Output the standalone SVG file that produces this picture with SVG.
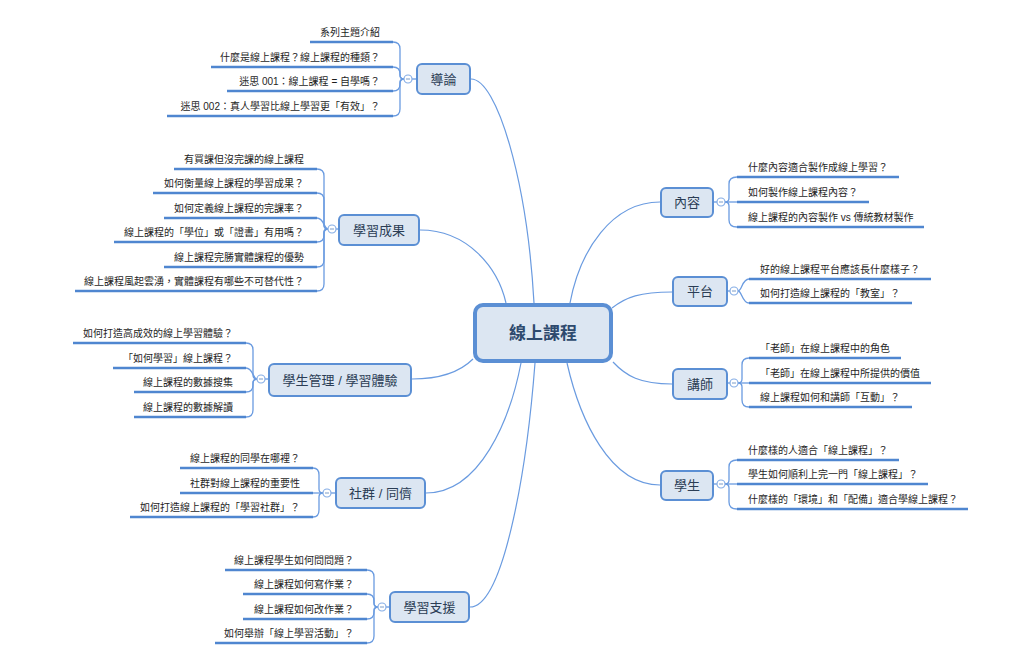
<svg xmlns="http://www.w3.org/2000/svg" width="1024" height="663" viewBox="0 0 1024 663">
<style>
text{font-family:"Liberation Sans","Noto Sans CJK TC",sans-serif}
.bg{fill:#ffffff}
.main{fill:#dce6f2;stroke:#5b8fd4;stroke-width:4}
.topic{fill:#dce6f2;stroke:#5b8fd4;stroke-width:2}
.mt{font-size:17px;font-weight:bold;fill:#2e4a6e;text-anchor:middle}
.tt{font-size:13px;fill:#2b3d55;text-anchor:middle}
.st{font-size:10px;fill:#1e1e1e}
.l{text-anchor:end}
.ul{stroke:#4f86d0;stroke-width:2.4;fill:none}
.c{stroke:#6a9be0;stroke-width:1.3;fill:none}
.mc{stroke:#6a9be0;stroke-width:1.2;fill:none}
.btn{fill:#ffffff;stroke:#86aee6;stroke-width:1.2}
.minus{stroke:#7a9cc8;stroke-width:1}
</style>
<rect class="bg" x="0" y="0" width="1024" height="663"/>

<g id="connectors">
  <!-- main connectors -->
  <path class="mc" d="M471,79 C497,79 527,180 534,303"/>
  <path class="mc" d="M420,230 C468,230 498,268 506,303"/>
  <path class="mc" d="M412,379 C440,379 460,372 473,359"/>
  <path class="mc" d="M426,493 C480,493 510,420 521,363"/>
  <path class="mc" d="M470,607 C502,607 526,480 535,363"/>
  <path class="mc" d="M660,202 C612,202 580,250 570,303"/>
  <path class="mc" d="M672,292 C640,292 626,297 612,308"/>
  <path class="mc" d="M672,384 C640,384 626,376 613,362"/>
  <path class="mc" d="M660,485 C610,485 580,420 567,363"/>
  <!-- 導論 -->
  <path class="c" d="M393,42 Q400,42 400,49 V75 Q400,79 404,79"/>
  <path class="c" d="M393,67 Q400,67 400,74 V75 Q400,79 404,79"/>
  <path class="c" d="M393,91 Q400,91 400,84 V83 Q400,79 404,79"/>
  <path class="c" d="M393,116 Q400,116 400,109 V83 Q400,79 404,79"/>
  <line class="c" x1="412" y1="79" x2="416" y2="79"/>
  <!-- 學習成果 -->
  <path class="c" d="M317,169 Q324,169 324,176 V225 Q324,229 328,229"/>
  <path class="c" d="M317,193 Q324,193 324,200 V225 Q324,229 328,229"/>
  <path class="c" d="M317,218 C324,218 324,229 328,229"/>
  <path class="c" d="M317,242 Q324,242 324,235 V233 Q324,229 328,229"/>
  <path class="c" d="M317,267 Q324,267 324,260 V233 Q324,229 328,229"/>
  <path class="c" d="M317,291 Q324,291 324,284 V233 Q324,229 328,229"/>
  <line class="c" x1="336" y1="229" x2="339" y2="229"/>
  <!-- 學生管理 -->
  <path class="c" d="M246,343 Q253,343 253,350 V375 Q253,379 257,379"/>
  <path class="c" d="M246,368 C253,368 253,379 257,379"/>
  <path class="c" d="M246,392 Q253,392 253,385 V383 Q253,379 257,379"/>
  <path class="c" d="M246,417 Q253,417 253,410 V383 Q253,379 257,379"/>
  <line class="c" x1="265" y1="379" x2="269" y2="379"/>
  <!-- 社群 -->
  <path class="c" d="M313,468 Q319,468 319,475 V489 Q319,493 323,493"/>
  <path class="c" d="M313,493 L323,493"/>
  <path class="c" d="M313,517 Q319,517 319,510 V497 Q319,493 323,493"/>
  <line class="c" x1="331" y1="493" x2="336" y2="493"/>
  <!-- 學習支援 -->
  <path class="c" d="M367,570 Q374,570 374,577 V603 Q374,607 378,607"/>
  <path class="c" d="M367,594 Q374,594 374,601 V603 Q374,607 378,607"/>
  <path class="c" d="M367,619 Q374,619 374,612 V611 Q374,607 378,607"/>
  <path class="c" d="M367,643 Q374,643 374,636 V611 Q374,607 378,607"/>
  <line class="c" x1="386" y1="607" x2="390" y2="607"/>
  <!-- 內容 -->
  <path class="c" d="M737,177 Q729,177 729,184 V198 Q729,202 725,202"/>
  <path class="c" d="M737,202 L725,202"/>
  <path class="c" d="M737,227 Q729,227 729,220 V206 Q729,202 725,202"/>
  <line class="c" x1="713" y1="202" x2="717" y2="202"/>
  <!-- 平台 -->
  <path class="c" d="M749,279 C742,279 742,291 738,291"/>
  <path class="c" d="M749,303 C742,303 742,291 738,291"/>
  <line class="c" x1="727" y1="291" x2="730" y2="291"/>
  <!-- 講師 -->
  <path class="c" d="M749,358 Q742,358 742,365 V379 Q742,383 738,383"/>
  <path class="c" d="M749,383 L738,383"/>
  <path class="c" d="M749,407 Q742,407 742,400 V387 Q742,383 738,383"/>
  <line class="c" x1="727" y1="383" x2="730" y2="383"/>
  <!-- 學生 -->
  <path class="c" d="M737,460 Q729,460 729,467 V480 Q729,484 725,484"/>
  <path class="c" d="M737,484 L725,484"/>
  <path class="c" d="M737,509 Q729,509 729,502 V488 Q729,484 725,484"/>
  <line class="c" x1="713" y1="484" x2="717" y2="484"/>
</g>

<g id="center">
  <rect class="main" x="475" y="305" width="136" height="56" rx="8"/>
  <text class="mt" x="543" y="339">線上課程</text>
</g>

<g id="t-daolun">
  <rect class="topic" x="417" y="64" width="53" height="30" rx="5"/>
  <text class="tt" x="443.5" y="83.5">導論</text>
  <circle class="btn" cx="408" cy="79" r="4"/><line class="minus" x1="406" y1="79" x2="410" y2="79"/>
  <line class="ul" x1="310" y1="42" x2="393" y2="42"/><text class="st l" x="380" y="36">系列主題介紹</text>
  <line class="ul" x1="211" y1="67" x2="393" y2="67"/><text class="st l" x="380" y="61">什麼是線上課程？線上課程的種類？</text>
  <line class="ul" x1="227" y1="91" x2="393" y2="91"/><text class="st l" x="380" y="85">迷思 001：線上課程 = 自學嗎？</text>
  <line class="ul" x1="167" y1="116" x2="393" y2="116"/><text class="st l" x="380" y="110">迷思 002：真人學習比線上學習更「有效」？</text>
</g>

<g id="t-outcome">
  <rect class="topic" x="339" y="215" width="80" height="30" rx="5"/>
  <text class="tt" x="379" y="234.5">學習成果</text>
  <circle class="btn" cx="332" cy="229" r="4"/><line class="minus" x1="330" y1="229" x2="334" y2="229"/>
  <line class="ul" x1="174" y1="169" x2="317" y2="169"/><text class="st l" x="304" y="163">有買課但沒完課的線上課程</text>
  <line class="ul" x1="153" y1="193" x2="317" y2="193"/><text class="st l" x="304" y="187">如何衡量線上課程的學習成果？</text>
  <line class="ul" x1="164" y1="218" x2="317" y2="218"/><text class="st l" x="304" y="212">如何定義線上課程的完課率？</text>
  <line class="ul" x1="114" y1="242" x2="317" y2="242"/><text class="st l" x="304" y="236">線上課程的「學位」或「證書」有用嗎？</text>
  <line class="ul" x1="164" y1="267" x2="317" y2="267"/><text class="st l" x="304" y="261">線上課程完勝實體課程的優勢</text>
  <line class="ul" x1="75" y1="291" x2="317" y2="291"/><text class="st l" x="304" y="285">線上課程風起雲湧，實體課程有哪些不可替代性？</text>
</g>

<g id="t-student-mgmt">
  <rect class="topic" x="269" y="364" width="142" height="32" rx="5"/>
  <text class="tt" x="340" y="384.5">學生管理 / 學習體驗</text>
  <circle class="btn" cx="261" cy="379" r="4"/><line class="minus" x1="259" y1="379" x2="263" y2="379"/>
  <line class="ul" x1="73" y1="343" x2="246" y2="343"/><text class="st l" x="233" y="337">如何打造高成效的線上學習體驗？</text>
  <line class="ul" x1="113" y1="368" x2="246" y2="368"/><text class="st l" x="233" y="362">「如何學習」線上課程？</text>
  <line class="ul" x1="134" y1="392" x2="246" y2="392"/><text class="st l" x="233" y="386">線上課程的數據搜集</text>
  <line class="ul" x1="134" y1="417" x2="246" y2="417"/><text class="st l" x="233" y="411">線上課程的數據解讀</text>
</g>

<g id="t-community">
  <rect class="topic" x="336" y="478" width="89" height="30" rx="5"/>
  <text class="tt" x="380.5" y="497.5">社群 / 同儕</text>
  <circle class="btn" cx="327" cy="493" r="4"/><line class="minus" x1="325" y1="493" x2="329" y2="493"/>
  <line class="ul" x1="180" y1="468" x2="313" y2="468"/><text class="st l" x="300" y="462">線上課程的同學在哪裡？</text>
  <line class="ul" x1="180" y1="493" x2="313" y2="493"/><text class="st l" x="300" y="487">社群對線上課程的重要性</text>
  <line class="ul" x1="130" y1="517" x2="313" y2="517"/><text class="st l" x="300" y="511">如何打造線上課程的「學習社群」？</text>
</g>

<g id="t-support">
  <rect class="topic" x="390" y="592" width="79" height="30" rx="5"/>
  <text class="tt" x="429.5" y="611.5">學習支援</text>
  <circle class="btn" cx="382" cy="607" r="4"/><line class="minus" x1="380" y1="607" x2="384" y2="607"/>
  <line class="ul" x1="225" y1="570" x2="367" y2="570"/><text class="st l" x="354" y="564">線上課程學生如何問問題？</text>
  <line class="ul" x1="243" y1="594" x2="367" y2="594"/><text class="st l" x="354" y="588">線上課程如何寫作業？</text>
  <line class="ul" x1="243" y1="619" x2="367" y2="619"/><text class="st l" x="354" y="613">線上課程如何改作業？</text>
  <line class="ul" x1="215" y1="643" x2="367" y2="643"/><text class="st l" x="354" y="637">如何舉辦「線上學習活動」？</text>
</g>

<g id="t-content">
  <rect class="topic" x="661" y="188" width="52" height="29" rx="5"/>
  <text class="tt" x="687" y="207">內容</text>
  <circle class="btn" cx="721" cy="202" r="4"/><line class="minus" x1="719" y1="202" x2="723" y2="202"/>
  <line class="ul" x1="737" y1="177" x2="899" y2="177"/><text class="st" x="748" y="171">什麼內容適合製作成線上學習？</text>
  <line class="ul" x1="737" y1="202" x2="869" y2="202"/><text class="st" x="748" y="196">如何製作線上課程內容？</text>
  <line class="ul" x1="737" y1="227" x2="924" y2="227"/><text class="st" x="748" y="221">線上課程的內容製作 vs 傳統教材製作</text>
</g>

<g id="t-platform">
  <rect class="topic" x="673" y="277" width="54" height="29" rx="5"/>
  <text class="tt" x="700" y="296">平台</text>
  <circle class="btn" cx="734" cy="291" r="4"/><line class="minus" x1="732" y1="291" x2="736" y2="291"/>
  <line class="ul" x1="749" y1="279" x2="931" y2="279"/><text class="st" x="760" y="273">好的線上課程平台應該長什麼樣子？</text>
  <line class="ul" x1="749" y1="303" x2="912" y2="303"/><text class="st" x="760" y="297">如何打造線上課程的「教室」？</text>
</g>

<g id="t-teacher">
  <rect class="topic" x="673" y="369" width="54" height="30" rx="5"/>
  <text class="tt" x="700" y="388.5">講師</text>
  <circle class="btn" cx="734" cy="383" r="4"/><line class="minus" x1="732" y1="383" x2="736" y2="383"/>
  <line class="ul" x1="749" y1="358" x2="901" y2="358"/><text class="st" x="760" y="352">「老師」在線上課程中的角色</text>
  <line class="ul" x1="749" y1="383" x2="931" y2="383"/><text class="st" x="760" y="377">「老師」在線上課程中所提供的價值</text>
  <line class="ul" x1="749" y1="407" x2="912" y2="407"/><text class="st" x="760" y="401">線上課程如何和講師「互動」？</text>
</g>

<g id="t-student">
  <rect class="topic" x="661" y="471" width="52" height="29" rx="5"/>
  <text class="tt" x="687" y="490">學生</text>
  <circle class="btn" cx="721" cy="484" r="4"/><line class="minus" x1="719" y1="484" x2="723" y2="484"/>
  <line class="ul" x1="737" y1="460" x2="899" y2="460"/><text class="st" x="748" y="454">什麼樣的人適合「線上課程」？</text>
  <line class="ul" x1="737" y1="484" x2="928" y2="484"/><text class="st" x="748" y="478">學生如何順利上完一門「線上課程」？</text>
  <line class="ul" x1="737" y1="509" x2="968" y2="509"/><text class="st" x="748" y="503">什麼樣的「環境」和「配備」適合學線上課程？</text>
</g>
</svg>
